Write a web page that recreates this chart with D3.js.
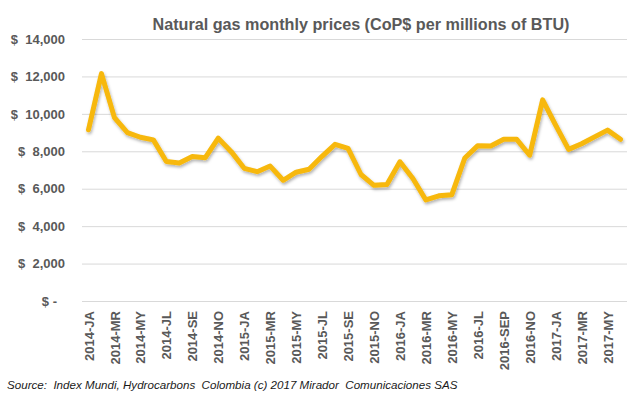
<!DOCTYPE html>
<html>
<head>
<meta charset="utf-8">
<script src="https://cdn.jsdelivr.net/npm/d3@7"></script>
<style>
  body { margin: 0; background: #fff; }
  svg { display: block; }
  text { font-family: "Liberation Sans", Arial, sans-serif; fill: #595959; }
  .title { font-family: "Liberation Sans Narrow", "Liberation Sans", sans-serif; font-weight: bold; font-size: 17px; }
  .tick text { font-weight: bold; font-size: 13px; }
  .source { font-style: italic; font-size: 11.6px; fill: #1a1a1a; white-space: pre; }
</style>
</head>
<body>
<svg width="643" height="398"></svg>
<script>
const months = [
  "2014-JA", "2014-FE", "2014-MR", "2014-AP", "2014-MY", "2014-JN",
  "2014-JL", "2014-AU", "2014-SE", "2014-OC", "2014-NO", "2014-DE",
  "2015-JA", "2015-FE", "2015-MR", "2015-AP", "2015-MY", "2015-JN",
  "2015-JL", "2015-AU", "2015-SE", "2015-OC", "2015-NO", "2015-DE",
  "2016-JA", "2016-FE", "2016-MR", "2016-AP", "2016-MY", "2016-JN",
  "2016-JL", "2016-AU", "2016-SEP", "2016-OC", "2016-NO", "2016-DE",
  "2017-JA", "2017-FE", "2017-MR", "2017-AP", "2017-MY", "2017-JN"
];

// CoP$ per million BTU
const prices = [
  9150, 12150, 9800, 9000, 8750, 8610, 7450, 7380, 7720, 7660, 8700, 7980,
  7090, 6910, 7210, 6450, 6880, 7040, 7730, 8370, 8150, 6760, 6180, 6220,
  7440, 6550, 5400, 5620, 5680, 7640, 8300, 8280, 8640, 8640, 7790, 10750,
  9400, 8100, 8400, 8770, 9130, 8640
];

const yTicks = [0, 2000, 4000, 6000, 8000, 10000, 12000, 14000];

const svg = d3.select("svg");
const width = +svg.attr("width");
const height = +svg.attr("height");

const margin = { top: 39, right: 16, bottom: 97, left: 82 };
const innerWidth = width - margin.left - margin.right;
const innerHeight = height - margin.top - margin.bottom;

const data = months.map((m, i) => ({ month: m, price: prices[i] }));

const xScale = d3
  .scalePoint()
  .domain(months)
  .range([0, innerWidth])
  .padding(0.5);

const yScale = d3
  .scaleLinear()
  .domain([0, 14000])
  .range([innerHeight, 0]);

// soft shadow under the line
const filter = svg.append("defs").append("filter")
  .attr("id", "shadow")
  .attr("x", "-5%").attr("y", "-5%")
  .attr("width", "110%").attr("height", "120%");
filter.append("feDropShadow")
  .attr("dx", 1)
  .attr("dy", 2)
  .attr("stdDeviation", 1.4)
  .attr("flood-color", "#000")
  .attr("flood-opacity", 0.3);

const g = svg
  .append("g")
  .attr("transform", `translate(${margin.left},${margin.top})`);

const yAxis = d3
  .axisLeft(yScale)
  .tickValues(yTicks)
  .tickSize(-innerWidth)
  .tickPadding(17)
  .tickFormat(d => d === 0 ? "$ -" : "$\u00a0\u00a0" + d3.format(",")(d));

const yAxisG = g.append("g").call(yAxis);
yAxisG.select(".domain").remove();
yAxisG.selectAll(".tick line").attr("stroke", "#d9d9d9");
yAxisG.selectAll(".tick")
  .filter(d => d === 0)
  .select("text")
  .attr("dx", -8);

const xAxis = d3
  .axisBottom(xScale)
  .tickValues(months.filter((m, i) => i % 2 === 0))
  .tickSize(0)
  .tickPadding(0);

const xAxisG = g
  .append("g")
  .attr("transform", `translate(0,${innerHeight})`)
  .call(xAxis);
xAxisG.select(".domain").remove();
xAxisG.selectAll(".tick text")
  .attr("transform", "rotate(-90)")
  .attr("text-anchor", "end")
  .attr("x", -10)
  .attr("y", 0)
  .attr("dy", "0.35em");

const line = d3
  .line()
  .x(d => xScale(d.month))
  .y(d => yScale(d.price));

g.append("path")
  .datum(data)
  .attr("fill", "none")
  .attr("stroke", "#f7b80a")
  .attr("stroke-width", 5)
  .attr("stroke-linejoin", "round")
  .attr("stroke-linecap", "round")
  .attr("filter", "url(#shadow)")
  .attr("d", line);

svg.append("text")
  .attr("class", "title")
  .attr("x", 361)
  .attr("y", 30)
  .attr("text-anchor", "middle")
  .attr("textLength", 417)
  .attr("lengthAdjust", "spacingAndGlyphs")
  .text("Natural gas monthly prices (CoP$ per millions of BTU)");

svg.append("text")
  .attr("class", "source")
  .attr("x", 7)
  .attr("y", 389)
  .text("Source:  Index Mundi, Hydrocarbons  Colombia (c) 2017 Mirador  Comunicaciones SAS");
</script>
</body>
</html>
